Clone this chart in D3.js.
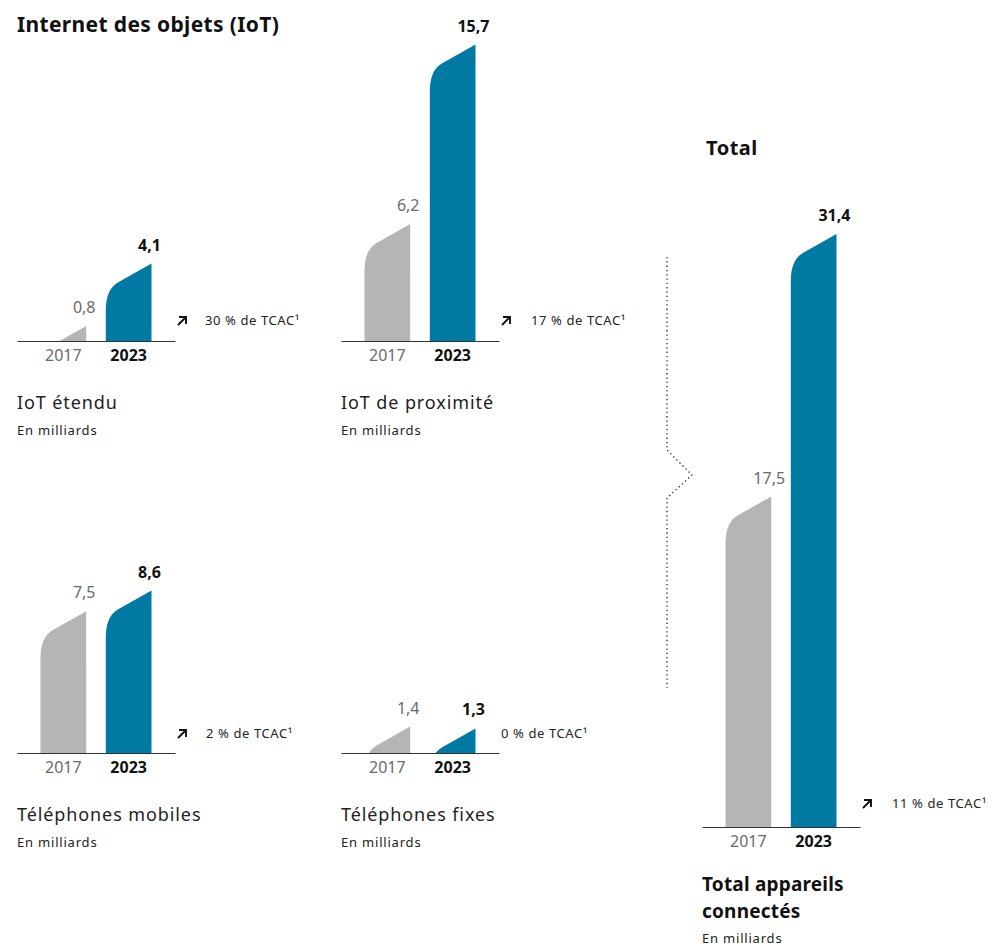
<!DOCTYPE html>
<html>
<head>
<meta charset="utf-8">
<script src="https://cdn.jsdelivr.net/npm/d3@7"></script>
<style>
  body { margin: 0; background: #fff; }
  svg { display: block; font-family: "Noto Sans", sans-serif; }
</style>
</head>
<body>
<svg width="994" height="948"></svg>
<script>
// data
const panelNames = ['IoT étendu', 'IoT de proximité', 'Téléphones mobiles', 'Téléphones fixes', 'Total appareils connectés'];
const years = ['2017', '2023'];
const values2017 = [0.8, 6.2, 7.5, 1.4, 17.5];
const values2023 = [4.1, 15.7, 8.6, 1.3, 31.4];
const tcacRates = ['30 %', '17 %', '2 %', '0 %', '11 %'];
const tcacUp = [true, true, true, false, true];

// where each small chart sits
const layout = [
  { x: 17, base: 341, tcacY: 325, tcacX: 188 },
  { x: 341, base: 341, tcacY: 325, tcacX: 190 },
  { x: 17, base: 753, tcacY: 738, tcacX: 189 },
  { x: 341, base: 753, tcacY: 738, tcacX: 160 },
  { x: 702, base: 827, tcacY: 808, tcacX: 190 }
];

const grey = '#b4b5b4', blue = '#007aa2';
const fr = d3.formatLocale({ decimal: ',', thousands: ' ', grouping: [3], currency: ['', ' €'] });
const fmt = fr.format('.1f');

const svg = d3.select('svg');
const h = d3.scaleLinear().domain([0, 31.4]).range([0, 593]);

// bar with a rounded, slanted top
function barPath(x0, w, yTop, yBase) {
  return 'M' + x0 + ',' + (yBase + 100) +
    'L' + x0 + ',' + (yTop + 47) +
    'Q' + x0 + ',' + (yTop + 26) + ' ' + (x0 + 12) + ',' + (yTop + 19) +
    'L' + (x0 + w) + ',' + yTop +
    'L' + (x0 + w) + ',' + (yBase + 100) + 'Z';
}

function arrow(g, x, y) {
  g.append('path')
    .attr('d', 'M' + x + ',' + (y + 4) + 'L' + (x + 8) + ',' + (y - 4) +
      'M' + (x + 1) + ',' + (y - 4) + 'L' + (x + 8) + ',' + (y - 4) + 'L' + (x + 8) + ',' + (y + 3))
    .attr('fill', 'none')
    .attr('stroke', '#111')
    .attr('stroke-width', 1.9);
}

panelNames.forEach(function(name, i) {
  let L = layout[i];
  let g = svg.append('g');

  let xScale = d3.scaleBand()
    .domain(years)
    .range([L.x, L.x + 158])
    .paddingInner(0.3)
    .paddingOuter(0.36);

  svg.append('clipPath').attr('id', 'clip' + i)
    .append('rect')
    .attr('x', L.x - 10).attr('y', 0)
    .attr('width', 200).attr('height', L.base);

  let vals = [values2017[i], values2023[i]];

  g.append('g')
    .attr('clip-path', 'url(#clip' + i + ')')
    .selectAll('path')
    .data(vals)
    .join('path')
    .attr('d', function(d, j) {
      return barPath(xScale(years[j]), xScale.bandwidth(), L.base - h(d), L.base);
    })
    .attr('fill', function(d, j) { return j === 0 ? grey : blue; });

  g.selectAll('text.val')
    .data(vals)
    .join('text')
    .attr('class', 'val')
    .attr('x', function(d, j) { return xScale(years[j]) + xScale.bandwidth() - 2; })
    .attr('y', function(d) { return L.base - h(d) - 13; })
    .attr('text-anchor', 'middle')
    .style('font-size', '16px')
    .style('font-weight', function(d, j) { return j === 0 ? 'normal' : 'bold'; })
    .style('fill', function(d, j) { return j === 0 ? '#6b6b6b' : '#111'; })
    .text(function(d) { return fmt(d); });

  let axis = g.append('g')
    .attr('transform', 'translate(0,' + L.base + ')')
    .call(d3.axisBottom(xScale).tickSize(0).tickSizeOuter(0).tickPadding(9));
  axis.select('.domain').attr('stroke', '#333');
  axis.selectAll('text')
    .style('font-family', '"Noto Sans", sans-serif')
    .style('font-size', '16px')
    .style('font-weight', function(d) { return d === '2023' ? 'bold' : 'normal'; })
    .style('fill', function(d) { return d === '2023' ? '#111' : '#6b6b6b'; });

  if (tcacUp[i]) arrow(g, L.x + 161, L.tcacY - 4);
  g.append('text')
    .attr('x', L.x + L.tcacX)
    .attr('y', L.tcacY)
    .style('font-size', '13px')
    .style('letter-spacing', '0.6px')
    .style('fill', '#222')
    .text(tcacRates[i] + ' de TCAC¹');

  if (i < 4) {
    g.append('text')
      .attr('x', L.x).attr('y', L.base + 68)
      .style('font-size', '18px').style('letter-spacing', '0.9px').style('fill', '#222')
      .text(name);
    g.append('text')
      .attr('x', L.x).attr('y', L.base + 94)
      .style('font-size', '13px').style('letter-spacing', '0.8px').style('fill', '#222')
      .text('En milliards');
  } else {
    let t = g.append('text')
      .attr('x', L.x).attr('y', L.base + 64)
      .style('font-size', '19px').style('font-weight', 'bold')
      .style('letter-spacing', '0.2px').style('fill', '#111');
    t.append('tspan').text('Total appareils');
    t.append('tspan').attr('x', L.x).attr('dy', 27).text('connectés');
    g.append('text')
      .attr('x', L.x).attr('y', L.base + 116)
      .style('font-size', '13px').style('letter-spacing', '0.8px').style('fill', '#222')
      .text('En milliards');
  }
});

svg.append('text')
  .attr('x', 17).attr('y', 32)
  .style('font-size', '21px').style('font-weight', 'bold')
  .style('letter-spacing', '0.35px').style('fill', '#111')
  .text('Internet des objets (IoT)');

svg.append('text')
  .attr('x', 706).attr('y', 155)
  .style('font-size', '20px').style('font-weight', 'bold')
  .style('letter-spacing', '0.5px').style('fill', '#111')
  .text('Total');

// dotted bracket linking IoT to the total
svg.append('path')
  .attr('d', 'M667,257L667,450L692,475L667,498L667,688')
  .attr('fill', 'none')
  .attr('stroke', '#222')
  .attr('stroke-width', 1.3)
  .attr('stroke-dasharray', '1.3,3');
</script>
</body>
</html>
